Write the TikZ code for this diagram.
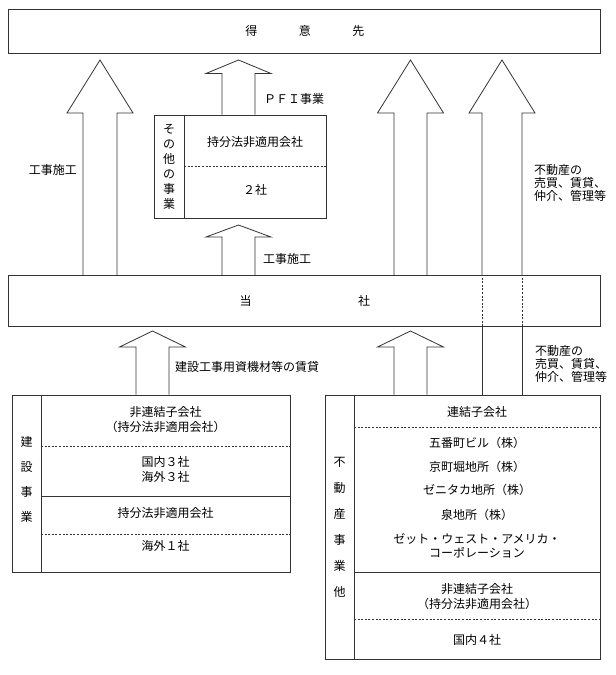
\documentclass[tikz,border=0pt]{standalone}
\usepackage{fontspec}
\setmainfont{Noto Sans CJK JP}
\usetikzlibrary{positioning}
\tikzset{frame/.style={draw=black!80, line width=0.8pt, inner sep=0pt},
         fatarrow/.style={draw=black!80, line width=0.8pt, line join=miter},
         sep/.style={draw=black!80, line width=0.8pt, dash pattern=on 2pt off 1.6pt},
         txt/.style={inner sep=0pt, align=center, font=\fontsize{12pt}{15pt}\selectfont},
         note/.style={inner sep=0pt, align=left, anchor=west, font=\fontsize{12pt}{12.8pt}\selectfont},
        }

\begin{document}
\begin{tikzpicture}[x=1pt, y=-1pt]
        \useasboundingbox (0,0) rectangle (616,675);

        \node[frame, txt, minimum width=592pt, minimum height=44.5pt](client)at(304.8,31.2){得\hskip41.5pt 意\hskip41.5pt 先};
        \node[frame, txt, minimum width=592pt, minimum height=50.5pt](company)at(304.8,300.7){当\hskip106.5pt 社};
        \node[frame, minimum width=172pt, minimum height=103pt](others)at(240,166.5){};
        \node[frame, minimum width=278pt, minimum height=177pt](constr)at(151,483.5){};
        \node[frame, minimum width=275.5pt, minimum height=264pt](realty)at(462.8,527){};

        \draw[frame](184,0 |- others.north)--(184,0 |- others.south);
        \draw[sep](184,166.7)--(others.east |- 0,166.7);
        \node[txt, font=\fontsize{12pt}{15pt}\selectfont](othersv)at(169,166.5){そ\\の\\他\\の\\事\\業};
        \node[txt](o1)at(255,142){持分法非適用会社};
        \node[txt](o2)at(255,190){２社};

        \draw[frame](41,0 |- constr.north)--(41,0 |- constr.south);
        \draw[sep](41,446)--(constr.east |- 0,446);
        \draw[frame](41,496)--(constr.east |- 0,496);
        \draw[sep](41,534)--(constr.east |- 0,534);
        \node[txt, font=\fontsize{12pt}{25pt}\selectfont](constrv)at(26.5,479){建\\設\\事\\業};
        \node[txt](c1)at(165.5,419.5){非連結子会社\\（持分法非適用会社）};
        \node[txt](c2)at(165.5,469.5){国内３社\\海外３社};
        \node[txt](c3)at(165.5,512.7){持分法非適用会社};
        \node[txt](c4)at(165.5,545.7){海外１社};

        \draw[frame](354,0 |- realty.north)--(354,0 |- realty.south);
        \draw[sep](354,427)--(realty.east |- 0,427);
        \draw[frame](354,572)--(realty.east |- 0,572);
        \draw[sep](354,619)--(realty.east |- 0,619);
        \node[txt, font=\fontsize{12pt}{26pt}\selectfont](realtyv)at(339.5,527){不\\動\\産\\事\\業\\他};
        \node[txt](r1)at(477,412){連結子会社};
        \node[txt](r2)at(477,443){五番町ビル（株）};
        \node[txt](r3)at(477,467){京町堀地所（株）};
        \node[txt](r4)at(477,490){ゼニタカ地所（株）};
        \node[txt](r5)at(477,515){泉地所（株）};
        \node[txt, font=\fontsize{12pt}{13.7pt}\selectfont](r6)at(477,546){ゼット・ウェスト・アメリカ・\\コーポレーション};
        \node[txt](r7)at(477,596.5){非連結子会社\\（持分法非適用会社）};
        \node[txt](r8)at(477,640){国内４社};

        % arrows up to client
        \draw[fatarrow](83,0 |- company.north)--(83,113)--(67,113)--(100,60)--(133,113)--(117,113)--(117,0 |- company.north);
        \draw[fatarrow](222,0 |- others.north)--(222,73.5)--(206,73.5)--(238.5,60)--(271,73.5)--(255,73.5)--(255,0 |- others.north);
        \draw[fatarrow](222,0 |- company.north)--(222,237)--(206,237)--(238.5,225)--(271,237)--(255,237)--(255,0 |- company.north);
        \draw[fatarrow](394,0 |- company.north)--(394,113)--(377.5,113)--(410.5,60)--(443.5,113)--(427,113)--(427,0 |- company.north);
        \draw[fatarrow](482,0 |- company.north)--(482,113)--(469,113)--(502,60)--(535,113)--(522,113)--(522,0 |- company.north);
        \draw[fatarrow](482,0 |- realty.north)--(482,0 |- company.south) (522,0 |- company.south)--(522,0 |- realty.north);
        \draw[sep](482,0 |- company.south)--(482,0 |- company.north) (522,0 |- company.south)--(522,0 |- company.north);

        % arrows up to company
        \draw[fatarrow](136,0 |- constr.north)--(136,347)--(119.5,347)--(152.5,331)--(185.5,347)--(169,347)--(169,0 |- constr.north);
        \draw[fatarrow](394,0 |- realty.north)--(394,347)--(377.5,347)--(410.5,331)--(443.5,347)--(427,347)--(427,0 |- realty.north);

        \node[note, anchor=east](work1)at(77,170){工事施工};
        \node[note](pfi)at(264,99){ＰＦＩ事業};
        \node[note](work2)at(263,259){工事施工};
        \node[note](sales1)at(534,183){不動産の\\売買、賃貸、\\仲介、管理等};
        \node[note](lease)at(175,367){建設工事用資機材等の賃貸};
        \node[note](sales2)at(535,364){不動産の\\売買、賃貸、\\仲介、管理等};
\end{tikzpicture}
\end{document}
